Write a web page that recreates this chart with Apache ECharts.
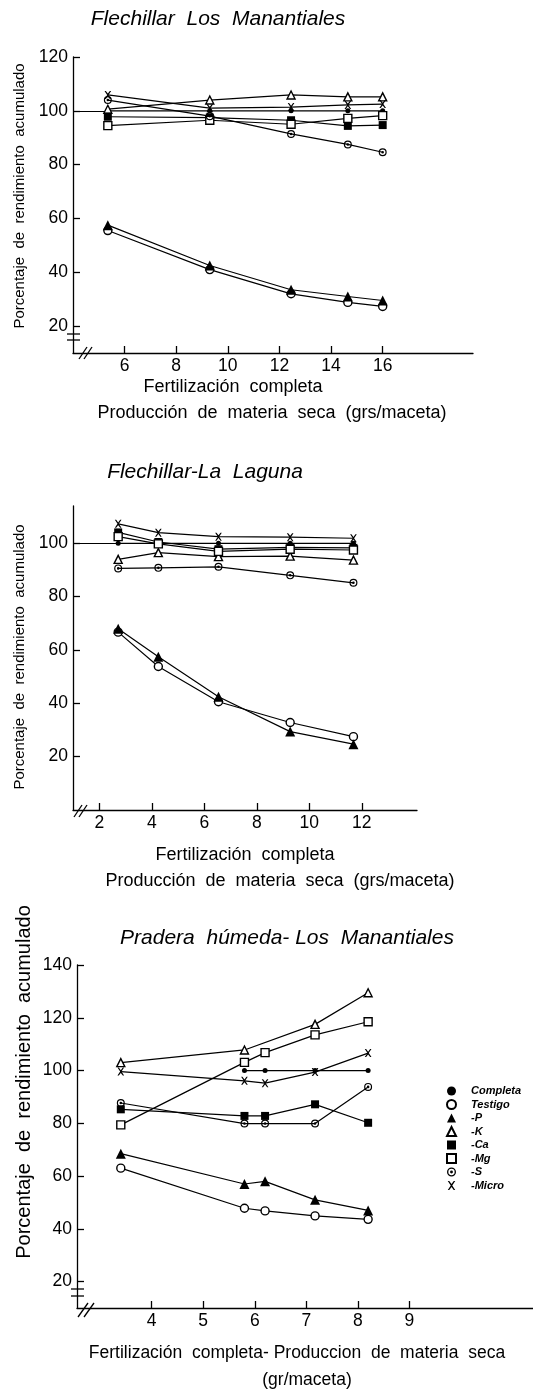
<!DOCTYPE html>
<html><head><meta charset="utf-8">
<script src="https://cdn.jsdelivr.net/npm/echarts@6/dist/echarts.min.js"></script>
<style>html,body{margin:0;padding:0;background:#fff}#c{width:533px;height:1392px}</style>
</head><body><div id="c"></div>
<script>
// ---------- DATA ----------
const seriesNames = ['Completa','Testigo','-P','-K','-Ca','-Mg','-S','-Micro'];

// Panel 1: Flechillar Los Manantiales
const p1X       = [5.35, 9.3, 12.45, 14.65, 16.0];
const p1Completa= [100, 100, 100, 100, 100];
const p1Testigo = [55.5, 41.0, 32.0, 28.8, 27.3];
const p1P       = [57.5, 42.5, 33.5, 31.0, 29.5];
const p1K       = [100.6, 104.0, 105.9, 105.2, 105.2];
const p1Ca      = [97.8, 97.5, 96.5, 94.4, 94.7];
const p1Mg      = [94.5, 96.5, 95.0, 97.2, 98.2];
const p1S       = [104.0, 98.0, 91.4, 87.5, 84.6];
const p1Micro   = [105.9, 101.0, 101.4, 102.2, 102.5];
const p1XTicks  = [6, 8, 10, 12, 14, 16];
const p1YTicks  = [20, 40, 60, 80, 100, 120];

// Panel 2: Flechillar-La Laguna
const p2X       = [2.72, 4.25, 6.54, 9.27, 11.68];
const p2Completa= [100, 100, 100, 100, 100];
const p2Testigo = [66.7, 53.8, 40.6, 32.8, 27.5];
const p2P       = [68.0, 57.5, 42.5, 29.4, 24.7];
const p2K       = [94.0, 96.5, 95.0, 95.2, 93.7];
const p2Ca      = [104.1, 100.5, 97.8, 98.5, 98.3];
const p2Mg      = [102.5, 99.8, 97.0, 97.8, 97.5];
const p2S       = [90.6, 90.8, 91.2, 88.0, 85.2];
const p2Micro   = [107.3, 104.0, 102.5, 102.3, 101.9];
const p2XTicks  = [2, 4, 6, 8, 10, 12];
const p2YTicks  = [20, 40, 60, 80, 100];

// Panel 3: Pradera húmeda - Los Manantiales
const p3X       = [3.4, 5.8, 6.2, 7.17, 8.2];
const p3Completa= [null, 100, 100, 100, 100];
const p3Testigo = [63.0, 47.8, 46.8, 44.9, 43.6];
const p3P       = [68.5, 57.0, 58.0, 51.0, 47.0];
const p3K       = [103.0, 107.8, null, 117.5, 129.5];
const p3Ca      = [85.3, 82.8, 82.8, 87.2, 80.2];
const p3Mg      = [79.4, 103.1, 106.8, 113.5, 118.5];
const p3S       = [87.7, 79.9, 79.9, 79.9, 93.8];
const p3Micro   = [99.6, 96.1, 95.2, 99.4, 106.6];
const p3XTicks  = [4, 5, 6, 7, 8, 9];
const p3YTicks  = [20, 40, 60, 80, 100, 120, 140];

// ---------- STYLE ----------
const FONT = "'Liberation Sans', Arial, sans-serif";
const RING_DOT = 'path://M0,-10A10,10 0 1,1 0,10A10,10 0 1,1 0,-10Z M0,-7A7,7 0 1,0 0,7A7,7 0 1,0 0,-7Z M0,-3.2A3.2,3.2 0 1,1 0,3.2A3.2,3.2 0 1,1 0,-3.2Z';
const XMARK = 'path://M-5,-6L-3,-6L0,-2L3,-6L5,-6L1,0L5,6L3,6L0,2L-3,6L-5,6L-1,0Z';
const SYM = {
  'Completa': {symbol:'circle',   size:5,  fill:'#000'},
  'Testigo':  {symbol:'circle',   size:8,  fill:'#fff'},
  '-P':       {symbol:'triangle', size:10, fill:'#000'},
  '-K':       {symbol:'triangle', size:8,  fill:'#fff'},
  '-Ca':      {symbol:'rect',     size:8,  fill:'#000'},
  '-Mg':      {symbol:'rect',     size:8,  fill:'#fff'},
  '-S':       {symbol:RING_DOT,   size:8,  fill:'#000'},
  '-Micro':   {symbol:XMARK,      size:8,  fill:'#000'}
};

const panels = [
  {xs:p1X, vals:[p1Completa,p1Testigo,p1P,p1K,p1Ca,p1Mg,p1S,p1Micro], xTicks:p1XTicks, yTicks:p1YTicks,
   grid:{left:73, top:57, width:400, height:296}, xMin:4, xMax:19.5, yMin:10, yMax:120, refLine:true},
  {xs:p2X, vals:[p2Completa,p2Testigo,p2P,p2K,p2Ca,p2Mg,p2S,p2Micro], xTicks:p2XTicks, yTicks:p2YTicks,
   grid:{left:73, top:506, width:344, height:304}, xMin:1, xMax:14.1, yMin:0, yMax:114, refLine:true},
  {xs:p3X, vals:[p3Completa,p3Testigo,p3P,p3K,p3Ca,p3Mg,p3S,p3Micro], xTicks:p3XTicks, yTicks:p3YTicks,
   grid:{left:77, top:965, width:456, height:343}, xMin:2.55, xMax:11.4, yMin:10, yMax:140, refLine:false}
];

const axisLineStyle = {color:'#000', width:1.3};
const grids = [], xAxes = [], yAxes = [], series = [];
panels.forEach((p, gi) => {
  grids.push(Object.assign({containLabel:false}, p.grid));
  xAxes.push({type:'value', gridIndex:gi, min:p.xMin, max:p.xMax,
    axisLine:{show:true, onZero:false, lineStyle:axisLineStyle},
    axisTick:{show:true, inside:true, length:7, customValues:p.xTicks, lineStyle:axisLineStyle},
    axisLabel:{customValues:p.xTicks, fontSize:17.5, color:'#000', margin:4, fontFamily:FONT},
    splitLine:{show:false}});
  yAxes.push({type:'value', gridIndex:gi, min:p.yMin, max:p.yMax,
    axisLine:{show:true, onZero:false, lineStyle:axisLineStyle},
    axisTick:{show:true, inside:true, length:7, customValues:p.yTicks, lineStyle:axisLineStyle},
    axisLabel:{customValues:p.yTicks, fontSize:17.5, color:'#000', margin:5, fontFamily:FONT},
    splitLine:{show:false}});
  seriesNames.forEach((name, si) => {
    const s = SYM[name];
    const data = [];
    p.xs.forEach((x, i) => { const v = p.vals[si][i]; if (v != null) data.push([x, v]); });
    const ser = {
      type:'line', name, xAxisIndex:gi, yAxisIndex:gi, data,
      symbol:s.symbol, symbolSize:s.size, symbolKeepAspect:true, showSymbol:true,
      lineStyle:{color:'#000', width:1.2},
      itemStyle:{color:s.fill, borderColor:'#000', borderWidth:(s.fill === '#fff' ? 1.4 : 0)},
      emphasis:{disabled:true}, animation:false, z:2 + si
    };
    if (name === 'Completa' && p.refLine) {
      ser.markLine = {silent:true, symbol:'none', label:{show:false},
        lineStyle:{color:'#000', width:1.2, type:'solid'},
        data:[[{coord:[p.xMin, 100]}, {coord:[p.xs[0], 100]}]]};
    }
    series.push(ser);
  });
});

function txt(text, x, y, size, opts) {
  return Object.assign({type:'text', x, y, style:Object.assign({text, fontSize:size, fontFamily:FONT,
    fill:'#000', align:'center', verticalAlign:'middle'}, (opts && opts.style) || {})},
    opts && opts.rotation ? {rotation:opts.rotation} : {});
}
function ln(x1, y1, x2, y2) {
  return {type:'line', shape:{x1, y1, x2, y2}, style:{stroke:'#000', lineWidth:1.3}};
}
const italic = {style:{fontStyle:'italic'}};
const rot = {rotation:Math.PI/2};

const graphic = [
  txt('Flechillar  Los  Manantiales', 218, 19, 21, italic),
  txt('Porcentaje  de  rendimiento  acumulado', 20, 196, 15, rot),
  txt('Fertilización  completa', 233, 387, 18),
  txt('Producción  de  materia  seca  (grs/maceta)', 272, 413, 18),

  txt('Flechillar-La  Laguna', 205, 472, 21, italic),
  txt('Porcentaje  de  rendimiento  acumulado', 20, 657, 15, rot),
  txt('Fertilización  completa', 245, 855, 18),
  txt('Producción  de  materia  seca  (grs/maceta)', 280, 881, 18),

  txt('Pradera  húmeda- Los  Manantiales', 287, 938, 21, italic),
  txt('Porcentaje  de  rendimiento  acumulado', 24, 1082, 20, rot),
  txt('Fertilización  completa- Produccion  de  materia  seca', 297, 1353, 17.5),
  txt('(gr/maceta)', 307, 1380, 17.5),

  // axis break marks
  ln(67, 334, 80, 334), ln(67, 340, 80, 340), ln(79, 359, 87, 347), ln(84, 359, 92, 347),
  ln(74, 817, 82, 805), ln(79, 817, 87, 805),
  ln(71, 1289, 84, 1289), ln(71, 1296, 84, 1296), ln(78, 1317, 88, 1303), ln(84, 1317, 94, 1303)
];

const chart = echarts.init(document.getElementById('c'), null, {renderer:'canvas'});
chart.setOption({
  animation:false,
  backgroundColor:'#fff',
  grid:grids, xAxis:xAxes, yAxis:yAxes, series,
  legend:{orient:'vertical', left:441, top:1080, itemWidth:9, itemHeight:9, itemGap:1.5,
    selectedMode:false,
    data:seriesNames.map(n => ({name:n, icon:SYM[n].symbol})),
    textStyle:{fontStyle:'italic', fontWeight:'bold', fontSize:11, lineHeight:12, color:'#000',
      fontFamily:FONT, padding:[0,0,0,10]}},
  graphic
});
</script></body></html>
